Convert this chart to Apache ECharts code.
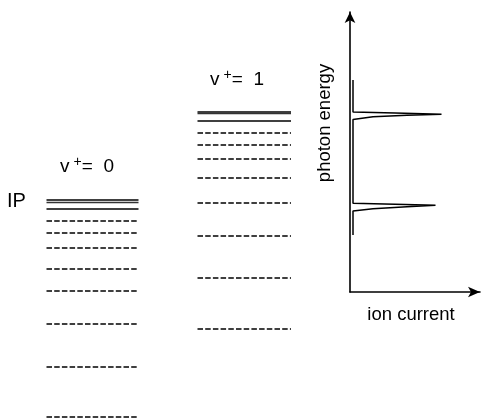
<!DOCTYPE html>
<html><head><meta charset="utf-8">
<script src="https://cdn.jsdelivr.net/npm/echarts@6/dist/echarts.min.js"></script>
<style>html,body{margin:0;padding:0;background:#fff}#c{width:482px;height:420px}</style>
</head><body><div id="c"></div>
<script>
// Energy in arbitrary units (increasing upward)
const stackNames = ['0', '1'];                       // v+ of each ion core
const limitLines0 = [220, 218, 211];                 // series limit (v+ = 0)
const rydbergLevels0 = [199, 187.5, 172, 151.5, 129, 96, 53.5, 3];
const limitLines1 = [308.5, 306.5, 299.3];           // series limit (v+ = 1)
const rydbergLevels1 = [287.3, 275.7, 261.7, 242, 217.7, 184.7, 142.3, 91.7];
// Ion-current spectrum (current, photon energy)
const spectrumCurrent = [3, 3, 45, 91.5, 57, 23, 3, 3, 3, 45, 85.5, 57, 23, 3, 3];
const spectrumEnergy  = [340, 308, 307, 305.7, 304.7, 303.3, 300.5, 300.5, 216.7, 215.8, 214.7, 213.3, 211.3, 209, 185];
const axisNames = ['ion current', 'photon energy'];

const FONT = '"Liberation Sans", Arial, Helvetica, sans-serif';
const stackX = [[46.5, 138.5], [197.5, 291]];

function levelData(limits, levels, xr) {
  const out = [];
  limits.forEach((e, i) => out.push({
    coords: [[xr[0], e], [xr[1], e]],
    lineStyle: { type: 'solid', width: i === 1 ? 1.3 : 1.6, color: i === 1 ? '#333' : '#000', opacity: 1 }
  }));
  levels.forEach(e => out.push({
    coords: [[xr[0], e], [xr[1], e]],
    lineStyle: { type: [5.5, 2.2], width: 1.5, color: '#000', opacity: 1 }
  }));
  return out;
}

const chart = echarts.init(document.getElementById('c'), null, { renderer: 'canvas' });
const noAxis = { show: false };
const richLabel = (txt) => ({
  text: '{v|v}{s|+}{t|=  ' + txt + '}',
  rich: {
    v: { fontSize: 19, fontFamily: FONT, fill: '#000', lineHeight: 24 },
    s: { fontSize: 14, fontFamily: FONT, fill: '#000', verticalAlign: 'top', lineHeight: 13, padding: [0, 0, 0, 4] },
    t: { fontSize: 19, fontFamily: FONT, fill: '#000', lineHeight: 24 }
  },
  align: 'center', verticalAlign: 'middle'
});

chart.setOption({
  animation: false,
  backgroundColor: '#fff',
  grid: [
    { left: 0, right: 0, top: 0, bottom: 0 },
    { left: 350, right: 2, top: 12, bottom: 128 }
  ],
  xAxis: [
    { gridIndex: 0, type: 'value', min: 0, max: 482, show: false },
    {
      gridIndex: 1, type: 'value', min: 0, max: 130,
      axisLine: { show: true, onZero: false, symbol: ['none', 'arrow'], symbolSize: [8, 12], lineStyle: { color: '#000', width: 1.6 } },
      axisTick: noAxis, axisLabel: noAxis, splitLine: noAxis,
      name: axisNames[0], nameLocation: 'middle', nameGap: 13,
      nameTextStyle: { fontSize: 18.5, color: '#000', fontFamily: FONT, padding: [0, 8, 0, 0] }
    }
  ],
  yAxis: [
    { gridIndex: 0, type: 'value', min: 0, max: 420, show: false },
    {
      gridIndex: 1, type: 'value', min: 128, max: 408,
      axisLine: { show: true, onZero: false, symbol: ['none', 'arrow'], symbolSize: [8, 11], lineStyle: { color: '#000', width: 1.6 } },
      axisTick: noAxis, axisLabel: noAxis, splitLine: noAxis
    }
  ],
  graphic: [
    { type: 'text', x: 87, y: 167, style: richLabel(stackNames[0]) },
    { type: 'text', x: 237, y: 80, style: richLabel(stackNames[1]) },
    { type: 'text', x: 7, y: 201, style: { text: 'IP', fontSize: 20, fontFamily: FONT, fill: '#000', align: 'left', verticalAlign: 'middle' } },
    { type: 'text', x: 325, y: 123, rotation: Math.PI / 2,
      style: { text: axisNames[1], fontSize: 18.5, fontFamily: FONT, fill: '#000', align: 'center', verticalAlign: 'middle' } }
  ],
  series: [
    { type: 'lines', coordinateSystem: 'cartesian2d', xAxisIndex: 0, yAxisIndex: 0, silent: true,
      lineStyle: { opacity: 1 },
      data: levelData(limitLines0, rydbergLevels0, stackX[0]) },
    { type: 'lines', coordinateSystem: 'cartesian2d', xAxisIndex: 0, yAxisIndex: 0, silent: true,
      lineStyle: { opacity: 1 },
      data: levelData(limitLines1, rydbergLevels1, stackX[1]) },
    { type: 'line', xAxisIndex: 1, yAxisIndex: 1, showSymbol: false, silent: true,
      data: spectrumCurrent.map((c, i) => [c, spectrumEnergy[i]]),
      lineStyle: { color: '#000', width: 1.5 } }
  ]
});
</script></body></html>
